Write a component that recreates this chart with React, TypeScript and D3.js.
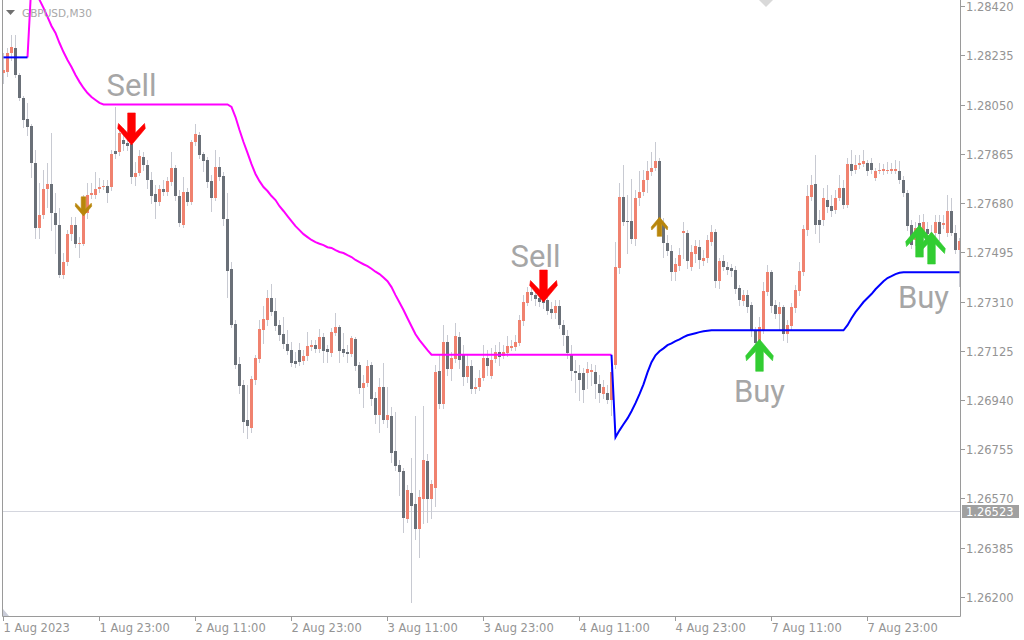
import { useRef, useEffect } from 'react'
import * as d3 from 'd3'

const symbolLabel = 'GBPUSD,M30'

const timeLabels = ['1 Aug 2023', '1 Aug 23:00', '2 Aug 11:00', '2 Aug 23:00', '3 Aug 11:00', '3 Aug 23:00', '4 Aug 11:00', '4 Aug 23:00', '7 Aug 11:00', '7 Aug 23:00']
const timeLabelBars = [0, 24, 48, 72, 96, 120, 144, 168, 192, 216]

const priceTicks = [1.2842, 1.28235, 1.2805, 1.27865, 1.2768, 1.27495, 1.2731, 1.27125, 1.2694, 1.26755, 1.2657, 1.26385, 1.262]
const lastPrice = 1.26523

// M30 bars, oldest first
const opens = [
  1.28169, 1.28172, 1.28244, 1.28262, 1.28161, 1.28074, 1.27996, 1.27969, 1.27830, 1.27586,
  1.27635, 1.27732, 1.27751, 1.27642, 1.27597, 1.27409, 1.27458, 1.27563, 1.27597, 1.27526,
  1.27526, 1.27642, 1.27710, 1.27710, 1.27732, 1.27740, 1.27744, 1.27740, 1.27875, 1.27871,
  1.27917, 1.27905, 1.27902, 1.27777, 1.27793, 1.27853, 1.27823, 1.27766, 1.27714, 1.27683,
  1.27732, 1.27721, 1.27759, 1.27811, 1.27706, 1.27597, 1.27721, 1.27683, 1.27909, 1.27935,
  1.27864, 1.27841, 1.27762, 1.27699, 1.27815, 1.27781, 1.27620, 1.27432, 1.27225, 1.27074,
  1.26995, 1.26864, 1.26834, 1.27014, 1.27093, 1.27202, 1.27240, 1.27323, 1.27274, 1.27221,
  1.27187, 1.27150, 1.27127, 1.27086, 1.27127, 1.27086, 1.27104, 1.27138, 1.27146, 1.27131,
  1.27176, 1.27131, 1.27116, 1.27191, 1.27213, 1.27131, 1.27120, 1.27112, 1.27168, 1.27071,
  1.26984, 1.27003, 1.27071, 1.26946, 1.26883, 1.26988, 1.26864, 1.26879, 1.26747, 1.26695,
  1.26672, 1.26492, 1.26589, 1.26548, 1.26454, 1.26567, 1.26710, 1.26567, 1.26608, 1.27048,
  1.26924, 1.27157, 1.27056, 1.27093, 1.27176, 1.27108, 1.27026, 1.27067, 1.26980, 1.26988,
  1.27022, 1.27097, 1.27029, 1.27093, 1.27120, 1.27104, 1.27116, 1.27134, 1.27138, 1.27153,
  1.27236, 1.27304, 1.27345, 1.27334, 1.27323, 1.27315, 1.27315, 1.27281, 1.27266, 1.27292,
  1.27221, 1.27180, 1.27108, 1.27048, 1.27041, 1.27041, 1.27041, 1.27044, 1.27044, 1.26999,
  1.26962, 1.26965, 1.26939, 1.27071, 1.27435, 1.27702, 1.27612, 1.27612, 1.27544, 1.27699,
  1.27721, 1.27766, 1.27796, 1.27811, 1.27838, 1.27605, 1.27529, 1.27499, 1.27420, 1.27443,
  1.27567, 1.27567, 1.27439, 1.27488, 1.27514, 1.27462, 1.27473, 1.27533, 1.27571, 1.27386,
  1.27462, 1.27439, 1.27435, 1.27428, 1.27360, 1.27311, 1.27334, 1.27296, 1.27202, 1.27161,
  1.27202, 1.27345, 1.27420, 1.27296, 1.27262, 1.27289, 1.27187, 1.27217, 1.27285, 1.27349,
  1.27420, 1.27578, 1.27702, 1.27751, 1.27616, 1.27616, 1.27691, 1.27668, 1.27654, 1.27699,
  1.27736, 1.27672, 1.27826, 1.27804, 1.27823, 1.27826, 1.27830, 1.27830, 1.27774, 1.27800,
  1.27801, 1.27799, 1.27800, 1.27800, 1.27800, 1.27766, 1.27717, 1.27597, 1.27541, 1.27605,
  1.27552, 1.27582, 1.27559, 1.27567, 1.27608, 1.27597, 1.27567, 1.27650, 1.27567, 1.27503,
]

const highs = [
  1.28244, 1.28262, 1.28311, 1.28311, 1.28169, 1.28082, 1.28056, 1.27977, 1.27879, 1.27755,
  1.27804, 1.27830, 1.27943, 1.27717, 1.27661, 1.27492, 1.27578, 1.27627, 1.27627, 1.27552,
  1.27710, 1.27755, 1.27755, 1.27796, 1.27774, 1.27766, 1.27766, 1.27879, 1.28041, 1.27973,
  1.27962, 1.27954, 1.27954, 1.27834, 1.27879, 1.27871, 1.27841, 1.27796, 1.27747, 1.27747,
  1.27766, 1.27777, 1.27871, 1.27823, 1.27729, 1.27777, 1.27736, 1.27917, 1.27977, 1.27947,
  1.27871, 1.27853, 1.27785, 1.27879, 1.27853, 1.27796, 1.27717, 1.27458, 1.27240, 1.27101,
  1.27014, 1.26995, 1.27029, 1.27108, 1.27240, 1.27292, 1.27353, 1.27375, 1.27323, 1.27240,
  1.27251, 1.27202, 1.27157, 1.27120, 1.27153, 1.27127, 1.27195, 1.27165, 1.27165, 1.27206,
  1.27191, 1.27146, 1.27210, 1.27266, 1.27221, 1.27191, 1.27146, 1.27180, 1.27176, 1.27082,
  1.27033, 1.27089, 1.27082, 1.26969, 1.27022, 1.27078, 1.26988, 1.26913, 1.26894, 1.26713,
  1.26683, 1.26619, 1.26721, 1.26879, 1.26601, 1.26916, 1.26736, 1.26638, 1.27071, 1.27108,
  1.27221, 1.27183, 1.27120, 1.27229, 1.27195, 1.27146, 1.27108, 1.27089, 1.27022, 1.27052,
  1.27146, 1.27127, 1.27134, 1.27146, 1.27157, 1.27146, 1.27180, 1.27165, 1.27183, 1.27259,
  1.27334, 1.27364, 1.27360, 1.27353, 1.27345, 1.27334, 1.27330, 1.27308, 1.27315, 1.27315,
  1.27240, 1.27202, 1.27146, 1.27089, 1.27071, 1.27059, 1.27082, 1.27074, 1.27071, 1.27033,
  1.27014, 1.26995, 1.27059, 1.27533, 1.27755, 1.27823, 1.27710, 1.27770, 1.27729, 1.27800,
  1.27804, 1.27838, 1.27871, 1.27909, 1.27849, 1.27623, 1.27559, 1.27522, 1.27473, 1.27511,
  1.27608, 1.27578, 1.27522, 1.27541, 1.27541, 1.27503, 1.27559, 1.27597, 1.27582, 1.27473,
  1.27484, 1.27458, 1.27450, 1.27443, 1.27371, 1.27353, 1.27353, 1.27308, 1.27213, 1.27251,
  1.27383, 1.27447, 1.27428, 1.27315, 1.27308, 1.27296, 1.27240, 1.27304, 1.27371, 1.27458,
  1.27597, 1.27747, 1.27785, 1.27860, 1.27654, 1.27736, 1.27747, 1.27710, 1.27729, 1.27785,
  1.27766, 1.27849, 1.27879, 1.27860, 1.27860, 1.27879, 1.27841, 1.27849, 1.27811, 1.27830,
  1.27826, 1.27834, 1.27830, 1.27841, 1.27838, 1.27781, 1.27729, 1.27616, 1.27608, 1.27635,
  1.27638, 1.27608, 1.27597, 1.27635, 1.27635, 1.27635, 1.27710, 1.27699, 1.27597, 1.27548,
]

const lows = [
  1.28131, 1.28157, 1.28217, 1.28153, 1.28067, 1.27965, 1.27935, 1.27777, 1.27548, 1.27548,
  1.27623, 1.27665, 1.27578, 1.27492, 1.27401, 1.27398, 1.27447, 1.27541, 1.27514, 1.27477,
  1.27522, 1.27623, 1.27699, 1.27699, 1.27721, 1.27732, 1.27683, 1.27729, 1.27849, 1.27860,
  1.27879, 1.27879, 1.27755, 1.27747, 1.27785, 1.27804, 1.27736, 1.27680, 1.27623, 1.27672,
  1.27710, 1.27710, 1.27747, 1.27691, 1.27593, 1.27590, 1.27672, 1.27676, 1.27898, 1.27849,
  1.27800, 1.27740, 1.27650, 1.27691, 1.27766, 1.27597, 1.27326, 1.27213, 1.27059, 1.26965,
  1.26819, 1.26796, 1.26819, 1.26999, 1.27082, 1.27153, 1.27221, 1.27259, 1.27202, 1.27165,
  1.27134, 1.27112, 1.27067, 1.27063, 1.27071, 1.27074, 1.27089, 1.27127, 1.27120, 1.27120,
  1.27082, 1.27082, 1.27104, 1.27183, 1.27082, 1.27104, 1.27082, 1.27104, 1.27052, 1.26965,
  1.26913, 1.26992, 1.26920, 1.26852, 1.26819, 1.26852, 1.26838, 1.26706, 1.26676, 1.26582,
  1.26446, 1.26480, 1.26183, 1.26416, 1.26352, 1.26477, 1.26480, 1.26495, 1.26540, 1.26909,
  1.26909, 1.27033, 1.27014, 1.27082, 1.27059, 1.26995, 1.27007, 1.26965, 1.26965, 1.26977,
  1.27014, 1.27033, 1.27022, 1.27082, 1.27071, 1.27097, 1.27104, 1.27127, 1.27127, 1.27146,
  1.27221, 1.27296, 1.27315, 1.27296, 1.27292, 1.27285, 1.27262, 1.27247, 1.27247, 1.27210,
  1.27146, 1.27097, 1.27014, 1.26969, 1.26939, 1.26932, 1.26984, 1.26995, 1.26946, 1.26932,
  1.26946, 1.26928, 1.26883, 1.27059, 1.27416, 1.27597, 1.27492, 1.27529, 1.27522, 1.27672,
  1.27710, 1.27721, 1.27785, 1.27804, 1.27571, 1.27477, 1.27484, 1.27390, 1.27390, 1.27428,
  1.27473, 1.27435, 1.27428, 1.27458, 1.27435, 1.27447, 1.27458, 1.27522, 1.27364, 1.27360,
  1.27428, 1.27413, 1.27405, 1.27341, 1.27296, 1.27296, 1.27270, 1.27180, 1.27134, 1.27142,
  1.27191, 1.27334, 1.27270, 1.27247, 1.27202, 1.27165, 1.27157, 1.27202, 1.27270, 1.27334,
  1.27409, 1.27559, 1.27691, 1.27567, 1.27533, 1.27597, 1.27646, 1.27631, 1.27642, 1.27691,
  1.27661, 1.27665, 1.27785, 1.27793, 1.27811, 1.27819, 1.27785, 1.27793, 1.27766, 1.27793,
  1.27789, 1.27792, 1.27793, 1.27793, 1.27755, 1.27706, 1.27578, 1.27511, 1.27522, 1.27559,
  1.27541, 1.27552, 1.27548, 1.27556, 1.27541, 1.27586, 1.27556, 1.27559, 1.27492, 1.27368,
]

const closes = [
  1.28180, 1.28244, 1.28266, 1.28161, 1.28074, 1.27992, 1.27965, 1.27830, 1.27586, 1.27635,
  1.27732, 1.27751, 1.27642, 1.27597, 1.27409, 1.27458, 1.27563, 1.27597, 1.27526, 1.27529,
  1.27676, 1.27710, 1.27717, 1.27732, 1.27740, 1.27744, 1.27717, 1.27864, 1.27864, 1.27943,
  1.27902, 1.27894, 1.27777, 1.27793, 1.27856, 1.27823, 1.27766, 1.27706, 1.27683, 1.27732,
  1.27721, 1.27762, 1.27811, 1.27706, 1.27605, 1.27721, 1.27683, 1.27909, 1.27939, 1.27860,
  1.27838, 1.27759, 1.27699, 1.27815, 1.27777, 1.27620, 1.27424, 1.27221, 1.27071, 1.26992,
  1.26856, 1.26841, 1.27018, 1.27097, 1.27206, 1.27244, 1.27323, 1.27270, 1.27217, 1.27183,
  1.27150, 1.27123, 1.27078, 1.27074, 1.27082, 1.27104, 1.27142, 1.27146, 1.27131, 1.27176,
  1.27123, 1.27120, 1.27195, 1.27213, 1.27123, 1.27116, 1.27112, 1.27172, 1.27067, 1.26984,
  1.27003, 1.27067, 1.26943, 1.26883, 1.26988, 1.26864, 1.26883, 1.26740, 1.26691, 1.26668,
  1.26495, 1.26601, 1.26540, 1.26454, 1.26574, 1.26713, 1.26567, 1.26623, 1.27044, 1.26924,
  1.27157, 1.27056, 1.27097, 1.27180, 1.27089, 1.27026, 1.27067, 1.26980, 1.26988, 1.27022,
  1.27097, 1.27067, 1.27089, 1.27120, 1.27101, 1.27120, 1.27142, 1.27142, 1.27157, 1.27240,
  1.27308, 1.27345, 1.27334, 1.27319, 1.27308, 1.27304, 1.27274, 1.27266, 1.27292, 1.27221,
  1.27183, 1.27116, 1.27048, 1.27041, 1.27014, 1.26977, 1.27056, 1.27052, 1.26999, 1.26965,
  1.26988, 1.26939, 1.27044, 1.27439, 1.27702, 1.27608, 1.27608, 1.27544, 1.27699, 1.27721,
  1.27766, 1.27800, 1.27811, 1.27838, 1.27586, 1.27529, 1.27499, 1.27420, 1.27450, 1.27484,
  1.27574, 1.27462, 1.27496, 1.27518, 1.27465, 1.27473, 1.27541, 1.27571, 1.27386, 1.27462,
  1.27439, 1.27428, 1.27424, 1.27356, 1.27315, 1.27334, 1.27289, 1.27198, 1.27153, 1.27213,
  1.27349, 1.27420, 1.27292, 1.27262, 1.27289, 1.27187, 1.27221, 1.27289, 1.27353, 1.27424,
  1.27582, 1.27706, 1.27747, 1.27597, 1.27597, 1.27699, 1.27665, 1.27650, 1.27699, 1.27736,
  1.27672, 1.27826, 1.27800, 1.27823, 1.27830, 1.27838, 1.27800, 1.27804, 1.27800, 1.27804,
  1.27806, 1.27805, 1.27808, 1.27808, 1.27766, 1.27717, 1.27593, 1.27522, 1.27586, 1.27586,
  1.27608, 1.27563, 1.27567, 1.27608, 1.27563, 1.27605, 1.27650, 1.27567, 1.27503, 1.27537,
]

// trailing stop line while in a sell phase (magenta)
const sellLineBars = [
  6, 7, 8, 9, 10, 11, 12, 13, 14, 15, 16, 17, 18, 19, 20, 21, 22, 23, 24, 25,
  56, 57, 58, 59, 60, 61, 62, 63, 64, 65, 66, 67, 68, 69, 70, 71, 72, 73, 74, 75,
  76, 77, 78, 79, 80, 81, 82, 83, 84, 85, 86, 87, 88, 89, 90, 91, 92, 93, 94, 95,
  96, 97, 98, 99, 100, 101, 102, 103, 104, 105, 106, 107, 152,
]
const sellLineValues = [
  1.28227, 1.28511, 1.28477, 1.28443, 1.28413, 1.28379, 1.28345, 1.28319, 1.28281, 1.28247,
  1.28217, 1.28191, 1.28161, 1.28135, 1.28112, 1.28093, 1.28078, 1.28067, 1.28056, 1.28050,
  1.28050, 1.28041, 1.28003, 1.27954, 1.27909, 1.27868, 1.27826, 1.27789, 1.27762, 1.27740,
  1.27725, 1.27706, 1.27691, 1.27668, 1.27650, 1.27631, 1.27612, 1.27593, 1.27578, 1.27563,
  1.27552, 1.27541, 1.27533, 1.27527, 1.27522, 1.27514, 1.27511, 1.27503, 1.27496, 1.27492,
  1.27484, 1.27477, 1.27466, 1.27458, 1.27450, 1.27443, 1.27433, 1.27422, 1.27413, 1.27400,
  1.27386, 1.27364, 1.27334, 1.27306, 1.27278, 1.27247, 1.27217, 1.27187, 1.27165, 1.27146,
  1.27127, 1.27110, 1.27110,
]

// trailing stop line while in a buy phase (blue), two stretches
const buyStartBars = [0, 6]
const buyStartValues = [1.28227, 1.28227]
const buyLineBars = [
  152, 153, 154, 155, 156, 157, 158, 159, 160, 161, 162, 163, 164, 165, 166, 167, 168, 169, 170, 171,
  172, 173, 174, 175, 176, 177, 210, 211, 212, 213, 214, 215, 216, 217, 218, 219, 220, 221, 222, 223,
  224, 225, 239,
]
const buyLineValues = [
  1.27110, 1.26800, 1.26826, 1.26849, 1.26871, 1.26898, 1.26928, 1.26962, 1.26999, 1.27044,
  1.27082, 1.27108, 1.27123, 1.27134, 1.27146, 1.27153, 1.27161, 1.27168, 1.27176, 1.27183,
  1.27187, 1.27191, 1.27195, 1.27198, 1.27200, 1.27202, 1.27202, 1.27221, 1.27247, 1.27270,
  1.27289, 1.27308, 1.27323, 1.27338, 1.27356, 1.27371, 1.27386, 1.27398, 1.27405, 1.27413,
  1.27418, 1.27420, 1.27420,
]

// signal arrows: price is where the arrow tip sits
const signalBars = [20, 32, 135, 164, 189, 229, 232]
const signalPrices = [1.27631, 1.27898, 1.27308, 1.27627, 1.27168, 1.27597, 1.27571]
const signalKinds = ['sellSmall', 'sell', 'sell', 'buySmall', 'buy', 'buy', 'buy']

const noteTexts = ['Sell', 'Sell', 'Buy', 'Buy']
const noteBars = [32, 133, 189, 230]
const notePrices = [1.28082, 1.27439, 1.26932, 1.27285]

const BULL = '#f0826f'
const BEAR = '#6a7078'
const WICK = '#c8cad2'
const AXIS_TEXT = '#949494'
const AXIS_LINE = '#9a9a9a'

// arrow outline, tip at (0,0), tail towards negative y (pointing down)
const arrowShape: [number, number][] = [
  [-3.8, -32], [3.8, -32], [3.8, -12], [13, -21.5], [13.8, -16.5], [0, 0],
  [-13.8, -16.5], [-13, -21.5], [-3.8, -12],
]

export default function App() {
  const svgRef = useRef<SVGSVGElement>(null)

  useEffect(() => {
    if (!svgRef.current) return
    const svg = d3.select(svgRef.current)
    svg.selectAll('*').remove()

    const plotLeft = 3
    const plotRight = 960
    const plotBottom = 616

    const x = d3.scaleLinear().domain([0, opens.length - 1]).range([3.5, 959.5])
    const y = d3.scaleLinear().domain([1.262, 1.2842]).range([597, 6])

    svg.append('rect').attr('width', 1024).attr('height', 640).attr('fill', '#ffffff')

    svg.append('defs').append('clipPath').attr('id', 'plot-clip')
      .append('rect')
      .attr('x', plotLeft).attr('y', 0)
      .attr('width', plotRight - plotLeft).attr('height', plotBottom)

    const plot = svg.append('g').attr('clip-path', 'url(#plot-clip)')

    // last price line
    const lastY = Math.round(y(lastPrice)) + 0.5
    plot.append('line')
      .attr('x1', plotLeft).attr('x2', plotRight)
      .attr('y1', lastY).attr('y2', lastY)
      .attr('stroke', '#d4d6de').attr('stroke-width', 1)

    const bars = d3.range(opens.length)

    // wicks
    plot.append('g').selectAll('line')
      .data(bars)
      .join('line')
      .attr('x1', (i) => x(i)).attr('x2', (i) => x(i))
      .attr('y1', (i) => Math.round(y(highs[i])))
      .attr('y2', (i) => Math.round(y(lows[i])) + 1)
      .attr('stroke', WICK).attr('stroke-width', 1)

    // bodies
    plot.append('g').selectAll('rect')
      .data(bars)
      .join('rect')
      .attr('x', (i) => x(i) - 1.5)
      .attr('width', 3)
      .attr('y', (i) => Math.round(y(Math.max(opens[i], closes[i]))))
      .attr('height', (i) => Math.max(1, Math.round(y(Math.min(opens[i], closes[i]))) - Math.round(y(Math.max(opens[i], closes[i])))))
      .attr('fill', (i) => (closes[i] >= opens[i] ? BULL : BEAR))

    // trailing lines
    const sellLine = d3.line<number>()
      .x((_, i) => x(sellLineBars[i]))
      .y((d) => y(d))
    plot.append('path')
      .datum(sellLineValues)
      .attr('d', sellLine)
      .attr('fill', 'none').attr('stroke', '#ff00ff').attr('stroke-width', 2)

    const buyStart = d3.line<number>()
      .x((_, i) => x(buyStartBars[i]))
      .y((d) => y(d))
    plot.append('path')
      .datum(buyStartValues)
      .attr('d', buyStart)
      .attr('fill', 'none').attr('stroke', '#0000ff').attr('stroke-width', 2)

    const buyLine = d3.line<number>()
      .x((_, i) => x(buyLineBars[i]))
      .y((d) => y(d))
    plot.append('path')
      .datum(buyLineValues)
      .attr('d', buyLine)
      .attr('fill', 'none').attr('stroke', '#0000ff').attr('stroke-width', 2)

    // signal arrows
    const arrowColor: Record<string, string> = {
      sell: '#ff0000', sellSmall: '#b8860b', buy: '#32cd32', buySmall: '#b8860b',
    }
    signalBars.forEach((bar, i) => {
      const kind = signalKinds[i]
      const scale = kind.endsWith('Small') ? 0.6 : 1
      const dir = kind.startsWith('sell') ? 1 : -1
      const pts = arrowShape.map(([px, py]) => [px * scale, py * scale * dir] as [number, number])
      plot.append('path')
        .attr('transform', `translate(${x(bar)},${y(signalPrices[i])})`)
        .attr('d', d3.line()(pts) + 'Z')
        .attr('fill', arrowColor[kind])
        .attr('stroke', arrowColor[kind])
        .attr('stroke-width', 0.6)
        .attr('stroke-linejoin', 'miter')
    })

    // Sell / Buy notes
    noteTexts.forEach((t, i) => {
      svg.append('text')
        .attr('x', x(noteBars[i]))
        .attr('y', y(notePrices[i]))
        .attr('text-anchor', 'middle')
        .attr('font-family', 'Roboto, sans-serif')
        .attr('font-size', '31px')
        .attr('fill', '#a6a6a6')
        .text(t)
    })

    // frame
    svg.append('path')
      .attr('d', `M2.5,0 V${plotBottom + 0.5} H${plotRight + 0.5} V0`)
      .attr('fill', 'none').attr('stroke', AXIS_LINE).attr('stroke-width', 1)

    // small markers
    svg.append('path').attr('d', 'M759,0 L773,0 L766,7 Z').attr('fill', '#d9d9d9')
    svg.append('path').attr('d', `M3,${plotBottom - 7} L3,${plotBottom} L9,${plotBottom} Z`).attr('fill', '#c9ccd8')

    // price axis
    const fmt = d3.format('.5f')
    const yAxis = svg.append('g')
    priceTicks.forEach((p) => {
      const ty = Math.round(y(p)) + 0.5
      yAxis.append('line')
        .attr('x1', plotRight + 0.5).attr('x2', plotRight + 5)
        .attr('y1', ty).attr('y2', ty)
        .attr('stroke', AXIS_LINE)
      yAxis.append('text')
        .attr('x', 966).attr('y', ty)
        .attr('dy', '0.38em')
        .attr('font-family', 'DejaVu Sans, sans-serif')
        .attr('font-size', '11.5px')
        .attr('fill', AXIS_TEXT)
        .text(fmt(p))
    })

    // last price tag
    yAxis.append('rect')
      .attr('x', 962).attr('y', lastY - 6.5)
      .attr('width', 57).attr('height', 13)
      .attr('fill', '#a0a0a0')
    yAxis.append('text')
      .attr('x', 966).attr('y', lastY)
      .attr('dy', '0.38em')
      .attr('font-family', 'DejaVu Sans, sans-serif')
      .attr('font-size', '11.5px')
      .attr('fill', '#ffffff')
      .text(fmt(lastPrice))

    // time axis
    const xAxis = svg.append('g')
    timeLabelBars.forEach((bar, i) => {
      const tx = Math.round(x(bar) - 0.5) + 0.5
      xAxis.append('line')
        .attr('x1', tx).attr('x2', tx)
        .attr('y1', plotBottom + 0.5).attr('y2', plotBottom + 5)
        .attr('stroke', AXIS_LINE)
      xAxis.append('text')
        .attr('x', tx)
        .attr('y', 632)
        .attr('font-family', 'DejaVu Sans, sans-serif')
        .attr('font-size', '11.5px')
        .attr('fill', AXIS_TEXT)
        .text(timeLabels[i])
    })

    // symbol caption
    svg.append('path').attr('d', 'M6,10 L15,10 L10.5,15 Z').attr('fill', '#707070')
    svg.append('text')
      .attr('x', 22).attr('y', 17)
      .attr('font-family', 'DejaVu Sans, sans-serif')
      .attr('font-size', '10.5px')
      .attr('fill', '#a8a8a8')
      .text(symbolLabel)
  }, [])

  return (
    <div style={{ position: 'absolute', left: 0, top: 0, width: 1024, height: 640 }}>
      <svg ref={svgRef} width={1024} height={640} style={{ display: 'block' }} />
    </div>
  )
}
